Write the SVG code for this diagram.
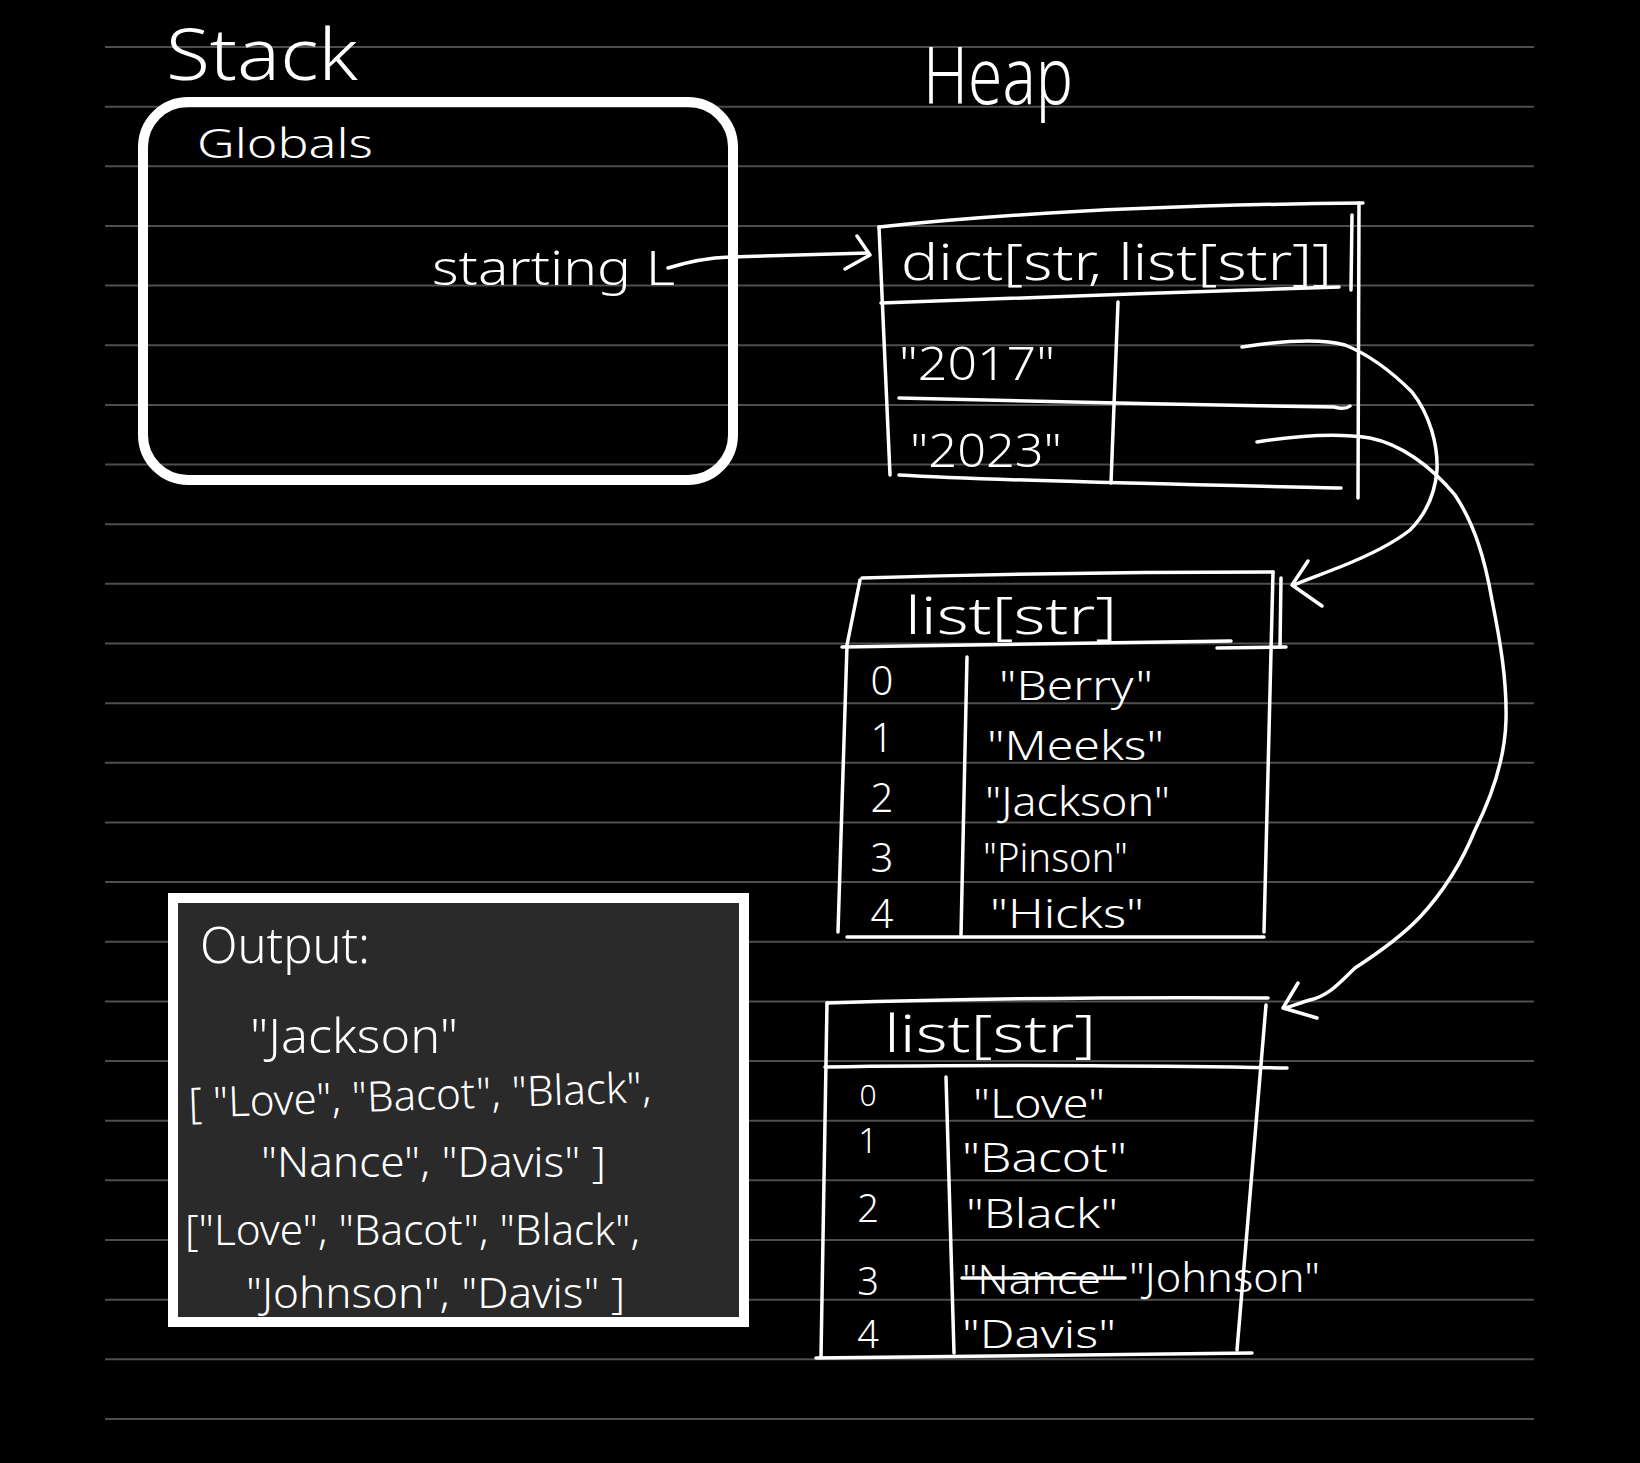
<svg xmlns="http://www.w3.org/2000/svg" width="1640" height="1463" viewBox="0 0 1640 1463">
<style>
.rule{stroke:#4e4e4e;stroke-width:2;fill:none}
.ink{stroke:#ffffff;stroke-width:3.5;fill:none;stroke-linecap:round;stroke-linejoin:round}
.t{fill:#ffffff;font-family:"Noto Sans","DejaVu Sans",sans-serif;font-weight:300}
</style>
<rect x="0" y="0" width="1640" height="1463" fill="#000000"/>
<g id="ruled-lines">
<path class="rule" d="M105,47H1534M105,106.65H1534M105,166.3H1534M105,225.95H1534M105,285.6H1534M105,345.25H1534M105,404.9H1534M105,464.55H1534M105,524.2H1534M105,583.85H1534M105,643.5H1534M105,703.15H1534M105,762.8H1534M105,822.45H1534M105,882.1H1534M105,941.75H1534M105,1001.4H1534M105,1061.05H1534M105,1120.7H1534M105,1180.35H1534M105,1240H1534M105,1299.65H1534M105,1359.3H1534M105,1418.95H1534"/>
</g>
<g id="stack-label">
<text class="t" x="166" y="80" font-size="72" textLength="192" lengthAdjust="spacingAndGlyphs">Stack</text>
</g>
<g id="heap-label">
<text class="t" x="923" y="104" font-size="80" textLength="150" lengthAdjust="spacingAndGlyphs">Heap</text>
</g>
<g id="globals">
<rect x="143" y="102" width="590" height="378" rx="45" ry="45" fill="none" stroke="#ffffff" stroke-width="10"/>
<text class="t" x="197" y="158" font-size="40" textLength="176" lengthAdjust="spacingAndGlyphs">Globals</text>
<text class="t" x="432" y="285" font-size="48" textLength="243" lengthAdjust="spacingAndGlyphs">starting L</text>
</g>
<g id="dict">
<path class="ink" d="M879,227 C1000,214 1150,205 1363,203"/>
<path class="ink" d="M879,227 L890,475"/>
<path class="ink" d="M1359,203 L1358,498"/>
<path class="ink" d="M1352,215 L1351,290"/>
<path class="ink" d="M881,303 C1000,298 1200,292 1339,287"/>
<path class="ink" d="M1118,302 L1111,483"/>
<path class="ink" d="M899,398 C1000,401 1200,405 1334,407 Q1345,410 1350,406"/>
<path class="ink" d="M899,475 C1000,481 1200,485 1341,488"/>
<text class="t" x="901" y="280" font-size="50" textLength="431" lengthAdjust="spacingAndGlyphs">dict[str, list[str]]</text>
<text class="t" x="899" y="380" font-size="46" textLength="156" lengthAdjust="spacingAndGlyphs">"2017"</text>
<text class="t" x="910" y="467" font-size="46" textLength="152" lengthAdjust="spacingAndGlyphs">"2023"</text>
</g>
<g id="list-2017">
<path class="ink" d="M862,578 C1000,574 1150,572 1273,572"/>
<path class="ink" d="M860,580 L847,645 L838,932"/>
<path class="ink" d="M1273,572 L1264,932"/>
<path class="ink" d="M1281,578 L1280,647"/>
<path class="ink" d="M842,647 C1000,644 1150,642 1231,641"/>
<path class="ink" d="M1217,648 L1286,647"/>
<path class="ink" d="M967,657 L961,935"/>
<path class="ink" d="M847,937 L1264,937"/>
<text class="t" x="905" y="634" font-size="52" textLength="212" lengthAdjust="spacingAndGlyphs">list[str]</text>
<g text-anchor="middle">
<text class="t" x="882" y="695" font-size="40">0</text>
<text class="t" x="882" y="752" font-size="40">1</text>
<text class="t" x="882" y="812" font-size="40">2</text>
<text class="t" x="882" y="872" font-size="40">3</text>
<text class="t" x="882" y="928" font-size="40">4</text>
</g>
<text class="t" x="999" y="700" font-size="40" textLength="154" lengthAdjust="spacingAndGlyphs">"Berry"</text>
<text class="t" x="987" y="760" font-size="40" textLength="177" lengthAdjust="spacingAndGlyphs">"Meeks"</text>
<text class="t" x="985" y="816" font-size="40" textLength="185" lengthAdjust="spacingAndGlyphs">"Jackson"</text>
<text class="t" x="983" y="872" font-size="40" textLength="145" lengthAdjust="spacingAndGlyphs">"Pinson"</text>
<text class="t" x="990" y="928" font-size="40" textLength="154" lengthAdjust="spacingAndGlyphs">"Hicks"</text>
</g>
<g id="list-2023">
<path class="ink" d="M827,1003 C1000,998 1150,997 1268,998"/>
<path class="ink" d="M827,1003 L821,1357"/>
<path class="ink" d="M1266,1005 L1237,1350"/>
<path class="ink" d="M825,1067 C1000,1064 1200,1066 1287,1068"/>
<path class="ink" d="M946,1077 L954,1353"/>
<path class="ink" d="M816,1358 C1000,1356 1150,1354 1252,1353"/>
<text class="t" x="884" y="1052" font-size="52" textLength="212" lengthAdjust="spacingAndGlyphs">list[str]</text>
<g text-anchor="middle">
<text class="t" x="868" y="1106" font-size="30">0</text>
<text class="t" x="868" y="1153" font-size="34">1</text>
<text class="t" x="868" y="1222" font-size="38">2</text>
<text class="t" x="868" y="1295" font-size="38">3</text>
<text class="t" x="868" y="1348" font-size="38">4</text>
</g>
<text class="t" x="973" y="1118" font-size="40" textLength="132" lengthAdjust="spacingAndGlyphs">"Love"</text>
<text class="t" x="962" y="1172" font-size="40" textLength="165" lengthAdjust="spacingAndGlyphs">"Bacot"</text>
<text class="t" x="966" y="1228" font-size="40" textLength="152" lengthAdjust="spacingAndGlyphs">"Black"</text>
<text class="t" x="962" y="1294" font-size="40" textLength="154" lengthAdjust="spacingAndGlyphs">"Nance"</text>
<path class="ink" d="M962,1278 L1125,1278"/>
<text class="t" x="1129" y="1292" font-size="40" textLength="191" lengthAdjust="spacingAndGlyphs">"Johnson"</text>
<text class="t" x="962" y="1348" font-size="38" textLength="154" lengthAdjust="spacingAndGlyphs">"Davis"</text>
</g>
<g id="output">
<rect x="173" y="898" width="571" height="424" fill="#2a2a2a" stroke="#ffffff" stroke-width="10"/>
<text class="t" x="200" y="963" font-size="50" textLength="170" lengthAdjust="spacingAndGlyphs">Output:</text>
<text class="t" x="250" y="1053" font-size="48" textLength="208" lengthAdjust="spacingAndGlyphs">"Jackson"</text>
<text class="t" x="189" y="1118" font-size="42" textLength="463" lengthAdjust="spacingAndGlyphs" transform="rotate(-2 189 1118)">[ "Love", "Bacot", "Black",</text>
<text class="t" x="261" y="1177" font-size="42" textLength="345" lengthAdjust="spacingAndGlyphs">"Nance", "Davis" ]</text>
<text class="t" x="185" y="1245" font-size="42" textLength="455" lengthAdjust="spacingAndGlyphs">["Love", "Bacot", "Black",</text>
<text class="t" x="246" y="1308" font-size="42" textLength="379" lengthAdjust="spacingAndGlyphs">"Johnson", "Davis" ]</text>
</g>
<g id="connectors">
<path class="ink" d="M668,268 Q700,258 730,257 L868,253"/>
<path class="ink" d="M857,236 L870,255 L845,269"/>
<path class="ink" d="M1242,347 C1280,341 1320,338 1345,345 C1370,355 1395,375 1412,392 C1430,415 1438,445 1437,470 C1435,495 1425,515 1410,530 C1390,546 1365,557 1340,567 C1320,575 1305,580 1294,585"/>
<path class="ink" d="M1308,561 L1292,585 L1322,606"/>
<path class="ink" d="M1257,442 C1300,435 1340,433 1370,438 C1400,444 1430,465 1455,495 C1475,525 1485,560 1492,600 C1500,640 1507,680 1506,720 C1505,760 1490,800 1475,830 C1462,862 1445,890 1420,917 C1400,938 1375,955 1355,968 C1340,982 1330,995 1310,1000 C1300,1003 1292,1006 1285,1008"/>
<path class="ink" d="M1298,983 L1283,1008 L1317,1018"/>
</g>
</svg>
